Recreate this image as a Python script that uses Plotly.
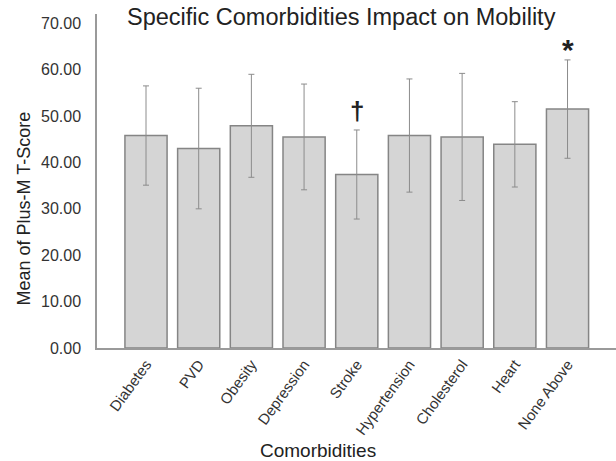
import plotly.graph_objects as go

categories = ["Diabetes", "PVD", "Obesity", "Depression", "Stroke",
              "Hypertension", "Cholesterol", "Heart", "None Above"]
means = [45.8, 43.0, 47.9, 45.5, 37.4, 45.8, 45.5, 43.9, 51.5]
errors = [10.7, 13.0, 11.1, 11.4, 9.6, 12.2, 13.7, 9.2, 10.6]
y_ticks = [0, 10, 20, 30, 40, 50, 60, 70]
y_tick_labels = ["0.00", "10.00", "20.00", "30.00", "40.00", "50.00", "60.00", "70.00"]
marks = [("Stroke", 51.0, "<b>†</b>", 26), ("None Above", 64.4, "<b>*</b>", 30)]

FONT = "Liberation Sans, Arial, sans-serif"

fig = go.Figure()
fig.add_trace(go.Bar(
    x=categories, y=means,
    marker=dict(color="#d5d5d5", line=dict(color="#858585", width=1.5)),
    error_y=dict(type="data", array=errors, visible=True,
                 color="#8c8c8c", thickness=1, width=3),
))

for cat, yv, txt, sz in marks:
    fig.add_annotation(x=cat, y=yv, xref="x", yref="y", text=txt, showarrow=False,
                       font=dict(family=FONT, size=sz, color="#222222"),
                       xanchor="center", yanchor="middle")

# title
fig.add_annotation(x=(341.5 - 97) / 519, y=(348 - 17) / 334, xref="paper", yref="paper",
                   text="Specific Comorbidities Impact on Mobility", showarrow=False,
                   font=dict(family=FONT, size=23.5, color="#222222"),
                   xanchor="center", yanchor="middle")
# y title
fig.add_annotation(x=(23 - 97) / 519, y=(348 - 208.5) / 334, xref="paper", yref="paper",
                   text="Mean of Plus-M T-Score", showarrow=False, textangle=-90,
                   font=dict(family=FONT, size=18, color="#222222"),
                   xanchor="center", yanchor="middle")
# x title
fig.add_annotation(x=(318 - 97) / 519, y=(348 - 450) / 334, xref="paper", yref="paper",
                   text="Comorbidities", showarrow=False,
                   font=dict(family=FONT, size=19, color="#222222"),
                   xanchor="center", yanchor="middle")

fig.update_layout(
    width=616, height=461,
    margin=dict(l=97, r=0, t=14, b=113, autoexpand=False),
    paper_bgcolor="white", plot_bgcolor="white",
    showlegend=False, bargap=0.2,
    font=dict(family=FONT, color="#333333"),
    xaxis=dict(range=[-0.93, 8.92], showline=True, linecolor="#9a9a9a", linewidth=1.5,
               tickangle=-54, tickfont=dict(size=15, color="#333333"),
               showgrid=False, ticks="", automargin=False),
    yaxis=dict(range=[0, 72], showline=True, linecolor="#9a9a9a", linewidth=1.5,
               tickvals=y_ticks, ticktext=y_tick_labels, showgrid=False, zeroline=False,
               ticks="", ticklabelstandoff=11, automargin=False,
               tickfont=dict(size=16, color="#333333")),
)

fig.write_html("out.html", config={"displayModeBar": False},
               post_script="document.body.style.margin='0';document.body.style.overflow='hidden';")
